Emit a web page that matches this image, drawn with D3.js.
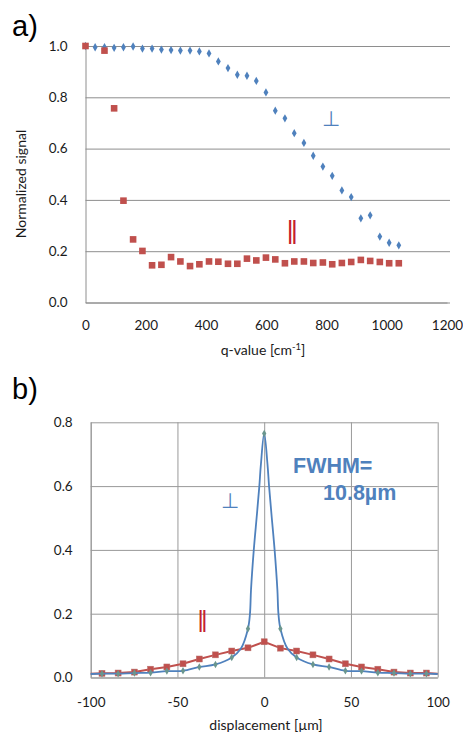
<!DOCTYPE html>
<html>
<head>
<meta charset="utf-8">
<script src="https://cdnjs.cloudflare.com/ajax/libs/d3/7.8.5/d3.min.js"></script>
<style>
  body { margin: 0; background: #fff; }
  svg { display: block; }
  .tick text { font-family: Lato, "Liberation Sans", sans-serif; font-size: 13.5px; fill: #1a1a1a; }
  .lbl { font-family: Lato, "Liberation Sans", sans-serif; font-size: 14px; fill: #1a1a1a; }
</style>
</head>
<body>
<svg id="chart" width="463" height="734"></svg>
<script>
// ---- panel a: normalized signal vs q ----
var qA = [0, 32, 63, 95, 126, 158, 189, 221, 252, 284, 315, 347, 378, 410, 441, 473, 504,
          536, 567, 599, 630, 662, 693, 725, 756, 788, 819, 851, 882, 914, 945, 977, 1008, 1040];
var perpA = [1.0, 0.995, 0.995, 0.993, 0.995, 0.998, 0.990, 0.990, 0.986, 0.984, 0.982, 0.982,
             0.979, 0.971, 0.940, 0.914, 0.888, 0.884, 0.864, 0.819, 0.748, 0.718, 0.660, 0.622,
             0.572, 0.530, 0.494, 0.437, 0.411, 0.328, 0.340, 0.257, 0.233, 0.223];
var parA = [1.0, null, 0.982, 0.757, 0.397, 0.246, 0.201, 0.145, 0.147, 0.177, 0.160, 0.142,
            0.149, 0.160, 0.159, 0.151, 0.151, 0.171, 0.164, 0.175, 0.168, 0.153, 0.160, 0.160,
            0.154, 0.156, 0.149, 0.154, 0.158, 0.166, 0.162, 0.158, 0.153, 0.153];
var xTicksA = [0, 200, 400, 600, 800, 1000, 1200];
var yTicksA = [0, 0.2, 0.4, 0.6, 0.8, 1.0];

// ---- panel b: profile vs displacement ----
var dispB = [-93.5, -84.2, -74.8, -65.5, -56.1, -46.8, -37.4, -28.1, -18.7, -9.35, 0,
             9.35, 18.7, 28.1, 37.4, 46.8, 56.1, 65.5, 74.8, 84.2, 93.5];
var parB = [0.013, 0.014, 0.017, 0.026, 0.033, 0.043, 0.058, 0.071, 0.083, 0.093, 0.112,
            0.092, 0.083, 0.071, 0.058, 0.043, 0.033, 0.026, 0.017, 0.014, 0.014];
var perpB = [0.012, 0.012, 0.014, 0.015, 0.020, 0.021, 0.033, 0.041, 0.063, 0.153, 0.765,
             0.153, 0.063, 0.041, 0.033, 0.021, 0.020, 0.015, 0.014, 0.012, 0.012];
// extra points of the blue fitted curve around the peak
var peakX = [-13.5, -8.2, -7.6, -6.0, -4.2, -2.8, -1.9, 1.9, 2.8, 4.2, 6.0, 7.6, 8.2, 13.5];
var peakY = [0.090, 0.200, 0.275, 0.400, 0.511, 0.600, 0.668, 0.668, 0.600, 0.511, 0.400, 0.275, 0.200, 0.090];
// where the lines meet the frame
var edgeX = [-100, 100];
var parEdge = [0.012, 0.012];
var perpEdge = [0.011, 0.011];
var xTicksB = [-100, -50, 0, 50, 100];
var yTicksB = [0, 0.2, 0.4, 0.6, 0.8];

var blue = "#4f81bd", red = "#c0504d";
var svg = d3.select("#chart");

// ================= a) =================
var xa = d3.scaleLinear().domain([0, 1200]).range([85.5, 447]);
var ya = d3.scaleLinear().domain([0, 1]).range([302.5, 46]);

var gya = svg.append("g").attr("transform", "translate(85.5,0)")
  .call(d3.axisLeft(ya).tickValues(yTicksA).tickFormat(d3.format(".1f"))
        .tickSizeInner(-(450 - 85.5)).tickSizeOuter(0).tickPadding(18));
gya.selectAll(".tick line").attr("stroke", "#8e8e8e");
gya.select(".domain").attr("stroke", "#8e8e8e");

var gxa = svg.append("g").attr("transform", "translate(0,302.5)")
  .call(d3.axisBottom(xa).tickValues(xTicksA).tickFormat(function(d) { return String(d); })
        .tickSize(0).tickPadding(18));
gxa.select(".domain").attr("stroke", "#8e8e8e");

var ptsA = qA.map(function(q, i) { return {q: q, perp: perpA[i], par: parA[i]}; });

svg.append("g").selectAll("path")
  .data(ptsA).enter().append("path")
  .attr("d", d3.symbol().type(d3.symbolDiamond).size(20))
  .attr("transform", function(d) { return "translate(" + xa(d.q) + "," + ya(d.perp) + ")"; })
  .attr("fill", blue);

svg.append("g").selectAll("rect")
  .data(ptsA.filter(function(d) { return d.par != null; })).enter().append("rect")
  .attr("x", function(d) { return xa(d.q) - 3.3; })
  .attr("y", function(d) { return ya(d.par) - 3.3; })
  .attr("width", 6.6).attr("height", 6.6)
  .attr("fill", red);

svg.append("text").attr("x", 12).attr("y", 36)
  .style("font-family", "Liberation Sans, Arial, sans-serif").style("font-size", "29px")
  .text("a)");

svg.append("text").attr("class", "lbl")
  .attr("transform", "translate(26,184) rotate(-90)")
  .attr("text-anchor", "middle")
  .text("Normalized signal");

var xl = svg.append("text").attr("class", "lbl")
  .attr("x", 263).attr("y", 355).attr("text-anchor", "middle");
xl.append("tspan").text("q-value [cm");
xl.append("tspan").attr("dy", -5).style("font-size", "9.5px").text("-1");
xl.append("tspan").attr("dy", 5).text("]");

svg.append("text").attr("x", 330.5).attr("y", 126)
  .attr("text-anchor", "middle")
  .style("font-family", "DejaVu Sans").style("font-weight", 200).style("font-size", "21px")
  .attr("fill", blue).text("⊥");

svg.append("text").attr("x", 291).attr("y", 239)
  .attr("text-anchor", "middle")
  .style("font-family", "Liberation Sans").style("font-size", "26px").style("letter-spacing", "-2.5px")
  .attr("fill", "#c4202c").text("||");

// ================= b) =================
var xb = d3.scaleLinear().domain([-100, 100]).range([90.7, 437.7]);
var yb = d3.scaleLinear().domain([0, 0.8]).range([677.5, 422.3]);

var gyb = svg.append("g").attr("transform", "translate(90.7,0)")
  .call(d3.axisLeft(yb).tickValues(yTicksB).tickFormat(d3.format(".1f"))
        .tickSizeInner(-(437.7 - 90.7)).tickSizeOuter(0).tickPadding(18));
gyb.selectAll(".tick line").attr("stroke", "#999");
gyb.select(".domain").attr("stroke", "#999");

var gxb = svg.append("g").attr("transform", "translate(0,677.5)")
  .call(d3.axisBottom(xb).tickValues(xTicksB).tickFormat(function(d) { return String(d); })
        .tickSizeInner(-(677.5 - 422.3)).tickSizeOuter(0).tickPadding(20));
gxb.selectAll(".tick line").attr("stroke", "#999");
gxb.select(".domain").attr("stroke", "#999");

var parLine = [[edgeX[0], parEdge[0]]]
  .concat(dispB.map(function(x, i) { return [x, parB[i]]; }))
  .concat([[edgeX[1], parEdge[1]]]);

var perpLine = [[edgeX[0], perpEdge[0]], [edgeX[1], perpEdge[1]]]
  .concat(dispB.map(function(x, i) { return [x, perpB[i]]; }))
  .concat(peakX.map(function(x, i) { return [x, peakY[i]]; }))
  .sort(function(a, b) { return a[0] - b[0]; });

var lineB = d3.line().x(function(d) { return xb(d[0]); }).y(function(d) { return yb(d[1]); });

svg.append("path").datum(parLine)
  .attr("d", lineB).attr("fill", "none").attr("stroke", red).attr("stroke-width", 2);

svg.append("g").selectAll("rect")
  .data(dispB).enter().append("rect")
  .attr("x", function(d) { return xb(d) - 3; })
  .attr("y", function(d, i) { return yb(parB[i]) - 3; })
  .attr("width", 6).attr("height", 6)
  .attr("fill", red).attr("stroke", "#b8706c").attr("stroke-width", 0.5);

svg.append("path").datum(perpLine)
  .attr("d", lineB.curve(d3.curveCatmullRom.alpha(0.5)))
  .attr("fill", "none").attr("stroke", blue).attr("stroke-width", 1.8);

svg.append("g").selectAll("path")
  .data(dispB).enter().append("path")
  .attr("d", d3.symbol().type(d3.symbolDiamond).size(16))
  .attr("transform", function(d, i) { return "translate(" + xb(d) + "," + yb(perpB[i]) + ")"; })
  .attr("fill", "#6a968e");

svg.append("text").attr("x", 12).attr("y", 398.5)
  .style("font-family", "Liberation Sans, Arial, sans-serif").style("font-size", "29px")
  .text("b)");

svg.append("text").attr("class", "lbl")
  .attr("x", 266).attr("y", 730).attr("text-anchor", "middle")
  .text("displacement [µm]");

svg.append("text").attr("x", 293).attr("y", 473)
  .style("font-family", "Liberation Sans").style("font-weight", "bold").style("font-size", "21.5px")
  .attr("fill", blue).text("FWHM=");
svg.append("text").attr("x", 323).attr("y", 500)
  .style("font-family", "Liberation Sans").style("font-weight", "bold").style("font-size", "21.5px")
  .attr("fill", blue).text("10.8µm");

svg.append("text").attr("x", 229.5).attr("y", 508)
  .attr("text-anchor", "middle")
  .style("font-family", "DejaVu Sans").style("font-weight", 200).style("font-size", "21px")
  .attr("fill", blue).text("⊥");

svg.append("text").attr("x", 201.2).attr("y", 627)
  .attr("text-anchor", "middle")
  .style("font-family", "Liberation Sans").style("font-size", "24px").style("letter-spacing", "-2.5px")
  .attr("fill", "#c4202c").text("||");
</script>
</body>
</html>
